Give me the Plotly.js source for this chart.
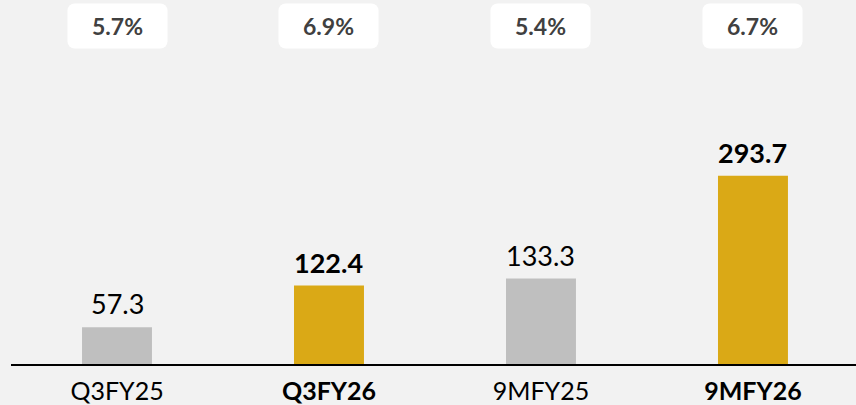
<!DOCTYPE html>
<html>
<head>
<meta charset="utf-8">
<script src="https://cdn.plot.ly/plotly-3.0.1.min.js"></script>
<style>html,body{margin:0;padding:0;background:#f2f2f2;}#chart{width:856px;height:405px;}</style>
</head>
<body>
<div id="chart"></div>
<script>
const categories = ['Q3FY25', 'Q3FY26', '9MFY25', '9MFY26'];
const values = [57.3, 122.4, 133.3, 293.7];
const margins = ['5.7%', '6.9%', '5.4%', '6.7%'];
const highlight = [false, true, false, true];

const FONT = 'Lato, "Open Sans", sans-serif';
const bold = (s, b) => b ? '<b>' + s + '</b>' : s;

const trace = {
  type: 'bar',
  x: categories,
  y: values,
  marker: { color: highlight.map(h => h ? '#daa916' : '#bfbfbf') },
  hoverinfo: 'none'
};

const annotations = [];
categories.forEach((c, i) => {
  annotations.push({
    x: c, xref: 'x', y: values[i], yref: 'y',
    text: bold(values[i].toFixed(1), highlight[i]),
    showarrow: false, yanchor: 'bottom', yshift: 5,
    font: { family: FONT, size: 27, color: '#000000' }
  });
  annotations.push({
    x: c, xref: 'x', y: 1.112, yref: 'paper',
    text: '<b>' + margins[i] + '</b>',
    showarrow: false, yanchor: 'middle',
    width: 99, height: 44, borderpad: 0,
    bgcolor: '#ffffff',
    font: { family: FONT, size: 23, color: '#404040' }
  });
});

const layout = {
  width: 856, height: 405,
  margin: { l: 11, r: 0, t: 60, b: 41 },
  paper_bgcolor: '#f2f2f2', plot_bgcolor: '#f2f2f2',
  bargap: 0.67,
  showlegend: false,
  xaxis: {
    type: 'category',
    range: [-0.5, 3.486],
    tickvals: categories,
    ticktext: categories.map((c, i) => bold(c, highlight[i])),
    tickfont: { family: FONT, size: 25, color: '#000000' },
    showline: true, linecolor: '#000000', linewidth: 2,
    ticks: '', showgrid: false, zeroline: false,
    ticklabelstandoff: 4
  },
  yaxis: {
    range: [0, 474],
    visible: false, showgrid: false, zeroline: false
  },
  annotations: annotations
};

Plotly.newPlot('chart', [trace], layout, { displayModeBar: false, staticPlot: true }).then(() => {
  document.querySelectorAll('.annotation rect.bg').forEach(r => {
    r.setAttribute('rx', 7);
    r.setAttribute('ry', 7);
  });
});
</script>
</body>
</html>
